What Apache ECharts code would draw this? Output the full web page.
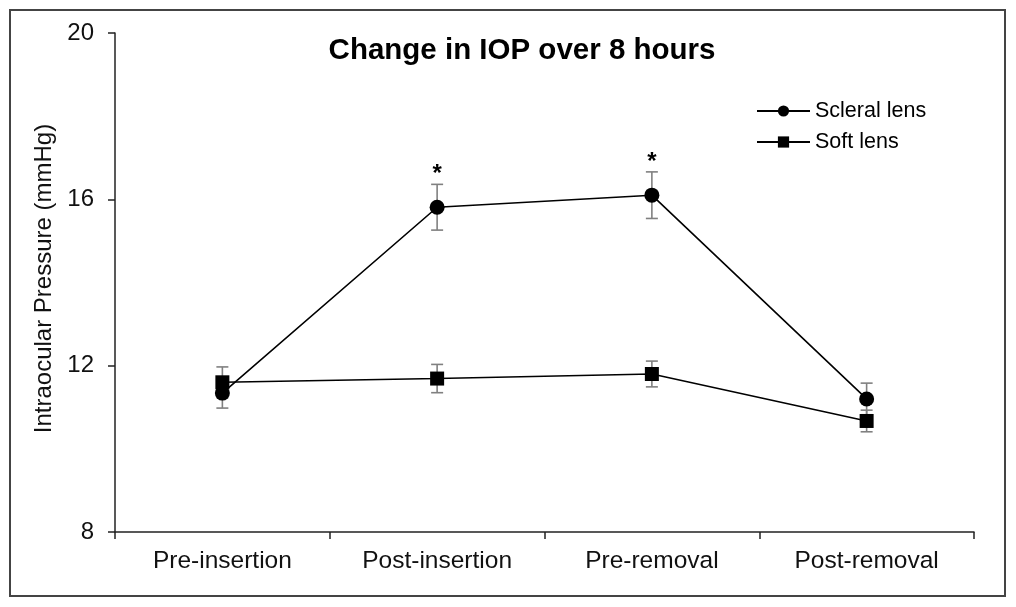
<!DOCTYPE html>
<html>
<head>
<meta charset="utf-8">
<script src="https://cdn.jsdelivr.net/npm/echarts@6/dist/echarts.min.js"></script>
<style>
  html, body { margin: 0; padding: 0; background: #fff; }
  #chart { width: 1016px; height: 607px; }
</style>
</head>
<body>
<div id="chart"></div>
<script>
  'use strict'
  var categories = ['Pre-insertion', 'Post-insertion', 'Pre-removal', 'Post-removal'];
  var scleral = [11.34, 15.81, 16.10, 11.20];
  var scleralErr = [0.36, 0.55, 0.56, 0.38];
  var soft = [11.60, 11.69, 11.80, 10.67];
  var softErr = [0.37, 0.34, 0.31, 0.26];
  var significant = ['', '*', '*', ''];
  var yTicks = [8, 12, 16, 20];

  var font = 'Liberation Sans, Arial, sans-serif';

  function errorData(vals, errs) {
    return vals.map(function (v, i) { return [i, v - errs[i], v + errs[i], significant[i]]; });
  }

  function renderErr(withStar) {
    return function (params, api) {
      var x = api.value(0);
      var lo = api.coord([x, api.value(1)]);
      var hi = api.coord([x, api.value(2)]);
      var half = 6;
      var style = { stroke: '#808080', lineWidth: 1.6 };
      var children = [
        { type: 'line', shape: { x1: hi[0], y1: hi[1], x2: lo[0], y2: lo[1] }, style: style },
        { type: 'line', shape: { x1: hi[0] - half, y1: hi[1], x2: hi[0] + half, y2: hi[1] }, style: style },
        { type: 'line', shape: { x1: lo[0] - half, y1: lo[1], x2: lo[0] + half, y2: lo[1] }, style: style }
      ];
      if (withStar && api.value(3)) {
        children.push({
          type: 'text',
          style: { x: hi[0], y: hi[1] + 2, text: api.value(3), align: 'center', verticalAlign: 'bottom',
                   font: 'bold 24px ' + font, fill: '#000' }
        });
      }
      return { type: 'group', children: children };
    };
  }

  var chart = echarts.init(document.getElementById('chart'));
  var option = {
    animation: false,
    title: {
      text: 'Change in IOP over 8 hours',
      left: 517,
      textAlign: 'center',
      top: 31,
      textStyle: { fontFamily: font, fontSize: 29.5, fontWeight: 'bold', color: '#000' }
    },
    legend: {
      data: ['Scleral lens', 'Soft lens'],
      orient: 'vertical',
      left: 751,
      top: 95,
      itemWidth: 53,
      itemHeight: 14,
      itemGap: 9,
      textStyle: { fontFamily: font, fontSize: 21.5, color: '#000' }
    },
    graphic: [{
      type: 'rect',
      shape: { x: 10, y: 10, width: 995, height: 586 },
      style: { fill: 'none', stroke: '#444', lineWidth: 2 }
    }],
    grid: { left: 115, right: 42, top: 33, bottom: 75 },
    xAxis: {
      type: 'category',
      data: categories,
      boundaryGap: true,
      axisLine: { lineStyle: { color: '#222', width: 1.5 } },
      axisTick: { show: true, length: 7, alignWithLabel: false, lineStyle: { color: '#222', width: 1.5 } },
      axisLabel: { fontFamily: font, fontSize: 24.5, color: '#111', margin: 17 }
    },
    yAxis: {
      type: 'value',
      min: yTicks[0],
      max: yTicks[yTicks.length - 1],
      interval: 4,
      name: 'Intraocular Pressure (mmHg)',
      nameLocation: 'middle',
      nameGap: 59,
      nameTextStyle: { fontFamily: font, fontSize: 24, color: '#111', padding: [0, 0, 0, 8] },
      axisLine: { show: true, lineStyle: { color: '#222', width: 1.5 } },
      axisTick: { show: true, length: 7, lineStyle: { color: '#222', width: 1.5 } },
      splitLine: { show: false },
      axisLabel: { fontFamily: font, fontSize: 24, color: '#111', margin: 21 }
    },
    series: [
      {
        type: 'custom',
        name: 'scleral-err',
        renderItem: renderErr(true),
        data: errorData(scleral, scleralErr),
        z: 1
      },
      {
        type: 'custom',
        name: 'soft-err',
        renderItem: renderErr(false),
        data: errorData(soft, softErr),
        z: 1
      },
      {
        name: 'Scleral lens',
        type: 'line',
        data: scleral,
        symbol: 'circle',
        symbolSize: 15,
        lineStyle: { color: '#000', width: 1.6 },
        itemStyle: { color: '#000' },
        z: 3
      },
      {
        name: 'Soft lens',
        type: 'line',
        data: soft,
        symbol: 'rect',
        symbolSize: 14,
        lineStyle: { color: '#000', width: 1.6 },
        itemStyle: { color: '#000' },
        z: 3
      }
    ]
  };
  chart.setOption(option);
</script>
</body>
</html>
